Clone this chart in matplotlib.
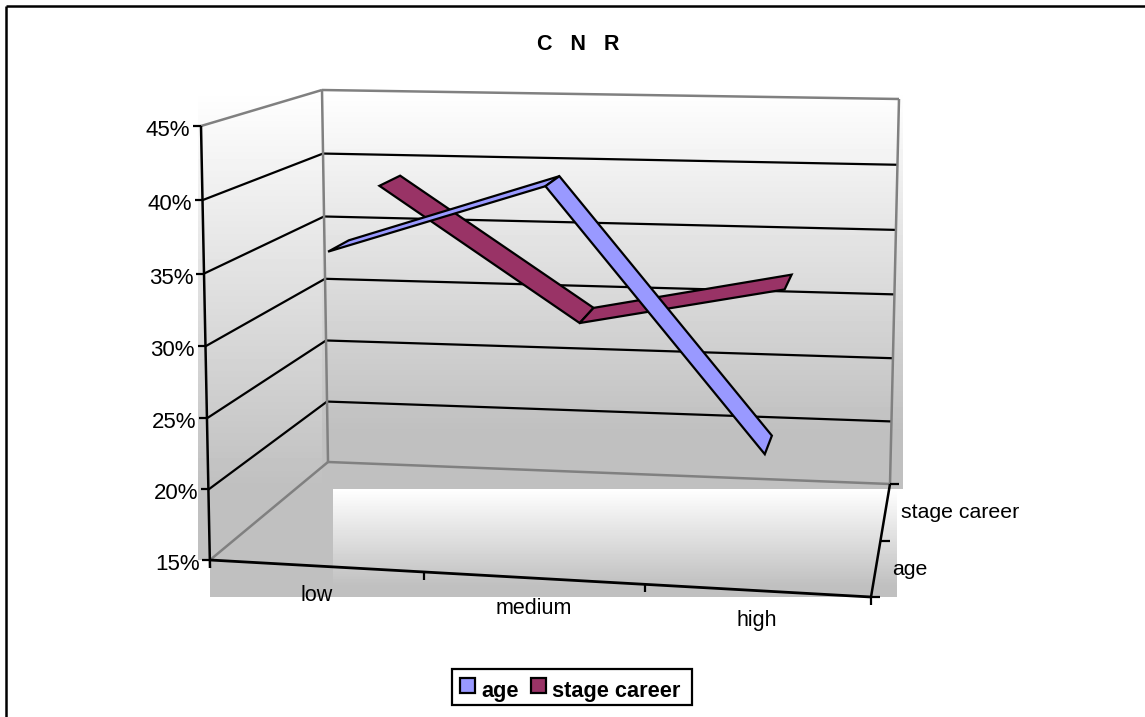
import numpy as np
import matplotlib
matplotlib.use('Agg')
import matplotlib.pyplot as plt
from matplotlib.patches import Polygon, Rectangle

plt.rcParams['font.family'] = ['Liberation Sans', 'DejaVu Sans']

categories = ['low', 'medium', 'high']
series_names = ['age', 'stage career']
age = [36.2, 41.2, 23.4]
stage_career = [39, 29.2, 32.2]
value_ticks = [15, 20, 25, 30, 35, 40, 45]
tick_labels = ['15%', '20%', '25%', '30%', '35%', '40%', '45%']

age_color = '#9999FF'
career_color = '#993366'

# corners of the 3d box in pixels, (front/back, left/right)
floor_fl = np.array([210, 560.0])
floor_fr = np.array([871, 597.0])
floor_bl = np.array([328, 462.0])
floor_br = np.array([890, 484.0])
top_fl = np.array([201, 126.0])
top_fr = np.array([883, 147.0])
top_bl = np.array([322, 90.0])
top_br = np.array([899, 99.0])


def project(u, v, value):
    # u across categories, v into the depth, both 0..1
    u = u - 0.04 * u * (1 - u)
    w = (value - value_ticks[0]) / (value_ticks[-1] - value_ticks[0])
    w = w - 0.03 * w * (1 - w)
    front = (1 - u) * ((1 - w) * floor_fl + w * top_fl) + u * ((1 - w) * floor_fr + w * top_fr)
    back = (1 - u) * ((1 - w) * floor_bl + w * top_bl) + u * ((1 - w) * floor_br + w * top_br)
    return (1 - v) * front + v * back


def gradient(ax, x0, x1, y0, y1, y_end, bottom=192):
    # white at y0 going to grey at y_end, flat grey after that
    ys = np.arange(y0, y1) + 0.5
    t = np.clip((ys - y0) / (y_end - y0), 0, 1)
    g = (255 - t * (255 - bottom)).reshape(-1, 1) / 255
    ax.imshow(g, extent=(x0, x1, y1, y0), cmap='gray', vmin=0, vmax=1,
              aspect='auto', zorder=1, interpolation='nearest')


def line(ax, a, b, color='black', lw=1.6, z=3):
    ax.plot([a[0], b[0]], [a[1], b[1]], color=color, lw=lw, zorder=z, solid_capstyle='butt')


def ribbon(ax, values, v0, v1, color, z):
    xs = [(i + 0.5) / len(values) for i in range(len(values))]
    for i in range(len(values) - 1):
        pts = [project(xs[i], v0, values[i]), project(xs[i + 1], v0, values[i + 1]),
               project(xs[i + 1], v1, values[i + 1]), project(xs[i], v1, values[i])]
        ax.add_patch(Polygon(pts, closed=True, facecolor=color, edgecolor='black',
                             lw=1.6, zorder=z, joinstyle='miter'))


fig = plt.figure(figsize=(11.45, 7.17), dpi=100)
ax = fig.add_axes([0, 0, 1, 1])

# background blocks behind the box
gradient(ax, 198, 333, 90, 560, 485)
ax.add_patch(Rectangle((210, 560), 123, 37, facecolor='#C0C0C0', edgecolor='none', zorder=1))
gradient(ax, 322, 903, 90, 489, 430)
gradient(ax, 333, 897, 489, 597, 585)

# walls
for val in value_ticks[1:-1]:
    line(ax, project(0, 0, val), project(0, 1, val))
    line(ax, project(0, 1, val), project(1, 1, val))
grey = '#808080'
line(ax, floor_fl, floor_bl, grey, 1.8)
line(ax, floor_bl, floor_br, grey, 1.8)
line(ax, floor_bl, top_bl, grey, 1.8)
line(ax, floor_br, top_br, grey, 1.8)
line(ax, top_fl, top_bl, grey, 1.8)
line(ax, top_bl, top_br, grey, 1.8)

# axes and ticks
line(ax, top_fl, floor_fl + np.array([0, 8]), lw=1.8, z=4)
line(ax, floor_fl, floor_fr, lw=2, z=4)
line(ax, floor_fr, floor_br, lw=1.8, z=4)
for val, lab in zip(value_ticks, tick_labels):
    p = project(0, 0, val)
    line(ax, p, p + np.array([-8, 0]), z=4)
    ax.text(p[0] - 10.5, p[1] + 4.5, lab, fontsize=16, ha='right', va='center', color='black', zorder=6)
for u in [1 / 3, 2 / 3, 1]:
    p = project(u, 0, value_ticks[0])
    line(ax, p, p + np.array([0, 8]), z=4)
for v in [0, 0.5, 1]:
    p = project(1, v, value_ticks[0])
    line(ax, p, p + np.array([9, 0]), z=4)

for i, lab in enumerate(categories):
    p = project((i + 0.5) / len(categories), 0, value_ticks[0])
    ax.text(p[0], p[1] + 30, lab, fontsize=15.5, ha='center', va='center', zorder=6)
for v, lab in zip([0.25, 0.75], series_names):
    p = project(1, v, value_ticks[0])
    ax.text(p[0] + 16, p[1] + 0.5, lab, fontsize=15.3, ha='left', va='center', zorder=6)

# back series first so age sits on top
ribbon(ax, stage_career, 0.65, 0.85, career_color, 5)
ribbon(ax, age, 0.15, 0.35, age_color, 5.5)

ax.text(578, 44, 'C   N   R', fontsize=15.5, fontweight='bold', ha='center', va='center', zorder=6)

# legend
ax.add_patch(Rectangle((452, 668.5), 240, 36.5, facecolor='white', edgecolor='black', lw=1.6, zorder=6))
ax.add_patch(Rectangle((460, 678), 15, 15, facecolor=age_color, edgecolor='black', lw=1.6, zorder=7))
ax.add_patch(Rectangle((531, 678), 15, 15, facecolor=career_color, edgecolor='black', lw=1.6, zorder=7))
ax.text(481, 697, series_names[0], fontsize=15.7, fontweight='bold', ha='left', va='baseline', zorder=7)
ax.text(552, 697, series_names[1], fontsize=15.7, fontweight='bold', ha='left', va='baseline', zorder=7)

# chart frame, only top and left fall inside the picture
line(ax, (6, 6), (1145, 6), lw=1.8, z=8)
line(ax, (6, 6), (6, 717), lw=1.8, z=8)

ax.set_xlim(0, 1145)
ax.set_ylim(717, 0)
ax.axis('off')
fig.savefig('out.png', dpi=100, facecolor='white')
